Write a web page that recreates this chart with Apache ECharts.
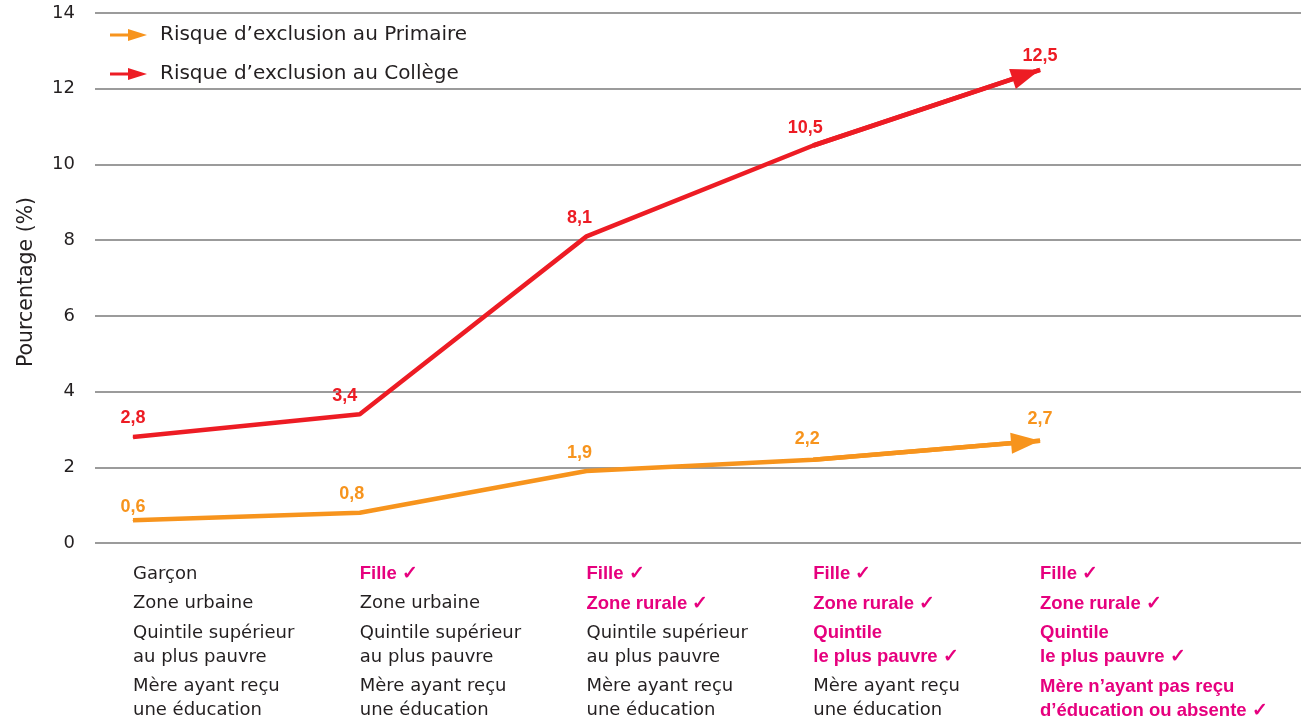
<!DOCTYPE html>
<html>
<head>
<meta charset="utf-8">
<script src="https://cdn.jsdelivr.net/npm/echarts@6/dist/echarts.min.js"></script>
<style>
html,body{margin:0;padding:0;background:#fff;}
#c{width:1301px;height:716px;}
</style>
</head>
<body>
<div id="c"></div>
<script>
// ---- data ----
const positions = [0, 1, 2, 3, 4];
const primaire = [0.6, 0.8, 1.9, 2.2, 2.7];
const college = [2.8, 3.4, 8.1, 10.5, 12.5];
const seriesNames = ['Risque d\u2019exclusion au Primaire', 'Risque d\u2019exclusion au Coll\u00e8ge'];
const yTicks = [0, 2, 4, 6, 8, 10, 12, 14];
// category descriptions: groups of lines per category
const catGroups = [
  [['Gar\u00e7on'], ['Zone urbaine'], ['Quintile sup\u00e9rieur', 'au plus pauvre'], ['M\u00e8re ayant re\u00e7u', 'une \u00e9ducation']],
  [['Fille \u2713'], ['Zone urbaine'], ['Quintile sup\u00e9rieur', 'au plus pauvre'], ['M\u00e8re ayant re\u00e7u', 'une \u00e9ducation']],
  [['Fille \u2713'], ['Zone rurale \u2713'], ['Quintile sup\u00e9rieur', 'au plus pauvre'], ['M\u00e8re ayant re\u00e7u', 'une \u00e9ducation']],
  [['Fille \u2713'], ['Zone rurale \u2713'], ['Quintile', 'le plus pauvre \u2713'], ['M\u00e8re ayant re\u00e7u', 'une \u00e9ducation']],
  [['Fille \u2713'], ['Zone rurale \u2713'], ['Quintile', 'le plus pauvre \u2713'], ['M\u00e8re n\u2019ayant pas re\u00e7u', 'd\u2019\u00e9ducation ou absente \u2713']]
];
const highlighted = [
  [0, 0, 0, 0],
  [1, 0, 0, 0],
  [1, 1, 0, 0],
  [1, 1, 1, 0],
  [1, 1, 1, 1]
];

// ---- styles ----
const RED = '#ed1c24';
const ORANGE = '#f7941d';
const MAGENTA = '#e6007e';
const TEXT = '#231f20';
const REG = '"DejaVu Sans", "Noto Sans", sans-serif';
const BOLD = '"Liberation Sans", Arial, sans-serif';

function fmtCategory(val) {
  const i = Math.round(val);
  const groups = catGroups[i];
  if (!groups) return '';
  const out = [];
  groups.forEach((g, gi) => {
    if (gi > 0) out.push('{sp| }');
    const st = highlighted[i][gi] ? 'h' : 'n';
    g.forEach(line => out.push('{' + st + '|' + line + '}'));
  });
  return out.join('\n');
}

// label nudges (style only): [seriesIdx][pointIdx] -> [dx, dy]
const labelNudge = [
  [[0, 5], [-8, 0], [-7, 0], [-6, -2], [0, -3]],
  [[0, 0], [-15, 0], [-7, 0], [-8, 1], [0, 5]]
];

function pts(arr, seriesIdx) {
  return positions.map((p, i) => ({
    value: [p, arr[i]],
    label: { offset: labelNudge[seriesIdx][i] }
  }));
}

function arrowSeg(arr) {
  const n = positions.length;
  return [[{ coord: [positions[n - 2], arr[n - 2]] }, { coord: [positions[n - 1], arr[n - 1]] }]];
}

const legendIcon = 'path://M0,4.5 L18,4.5 L18,0 L37,6 L18,12 L18,7.5 L0,7.5 Z';

function lineSeries(name, arr, color, seriesIdx) {
  return {
    name: name,
    type: 'line',
    data: pts(arr, seriesIdx),
    color: color,
    showSymbol: true,
    symbol: 'circle',
    symbolSize: 1,
    itemStyle: { color: color },
    lineStyle: { width: 4.5, color: color },
    label: {
      show: true, position: 'top', distance: 9,
      fontFamily: BOLD, fontWeight: 'bold', fontSize: 18, color: color,
      formatter: p => String(p.value[1]).replace('.', ',')
    },
    markLine: {
      silent: true,
      symbol: ['none', 'triangle'],
      symbolSize: [21, 29],
      symbolOffset: [0, [0, 14.5]],
      label: { show: false },
      lineStyle: { type: 'solid', width: 4.5, color: color },
      data: arrowSeg(arr)
    }
  };
}

const chart = echarts.init(document.getElementById('c'), null, { renderer: 'canvas' });
chart.setOption({
  animation: false,
  backgroundColor: '#ffffff',
  grid: { left: 95, right: 0, top: 13, bottom: 173, containLabel: false, outerBoundsMode: 'none' },
  legend: {
    orient: 'vertical',
    left: 110,
    top: 25,
    itemGap: 19,
    itemWidth: 37,
    itemHeight: 12,
    padding: 0,
    textStyle: { fontFamily: REG, fontSize: 20, color: TEXT, lineHeight: 20, padding: [0, 0, 0, 8] },
    data: [
      { name: seriesNames[0], icon: legendIcon, itemStyle: { color: ORANGE } },
      { name: seriesNames[1], icon: legendIcon, itemStyle: { color: RED } }
    ]
  },
  xAxis: {
    type: 'value',
    min: -0.1676,
    max: 5.151,
    axisLine: { show: false },
    axisTick: { show: false },
    splitLine: { show: false },
    axisLabel: {
      customValues: positions,
      formatter: fmtCategory,
      align: 'left',
      verticalAlign: 'top',
      margin: 19,
      rich: {
        n: { fontFamily: REG, fontSize: 18, color: TEXT, lineHeight: 24 },
        h: { fontFamily: BOLD, fontSize: 18.5, fontWeight: 'bold', color: MAGENTA, lineHeight: 24 },
        sp: { fontSize: 1, lineHeight: 5.5 }
      }
    }
  },
  yAxis: {
    type: 'value',
    min: 0,
    max: 14,
    interval: 2,
    axisLine: { show: false },
    axisTick: { show: false },
    axisLabel: { fontFamily: REG, fontSize: 18, color: TEXT, margin: 20 },
    splitLine: { lineStyle: { color: '#9b9b9b', width: 2 } },
    name: 'Pourcentage (%)',
    nameLocation: 'middle',
    nameGap: 58,
    nameTextStyle: { fontFamily: REG, fontSize: 20.5, color: TEXT, padding: [0, 8, 0, 0] }
  },
  series: [
    lineSeries(seriesNames[0], primaire, ORANGE, 0),
    lineSeries(seriesNames[1], college, RED, 1)
  ]
});
</script>
</body>
</html>
